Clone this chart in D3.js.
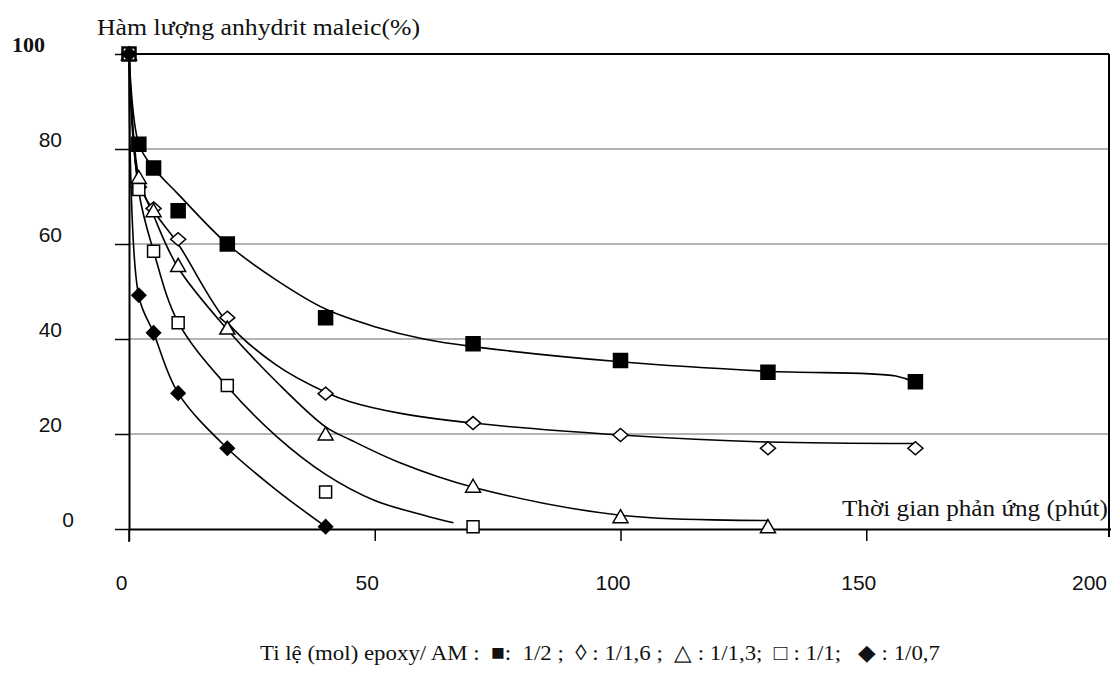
<!DOCTYPE html>
<html>
<head>
<meta charset="utf-8">
<script src="https://cdn.jsdelivr.net/npm/d3@7"></script>
<style>
  body { margin: 0; background: #fff; }
  svg { display: block; }
</style>
</head>
<body>
<div id="chart"></div>
<script>
// Dữ liệu đọc từ đồ thị (điểm đo)
const seriesNames = ["1/2", "1/1,6", "1/1,3", "1/1", "1/0,7"];
const time12 = [0, 2, 5, 10, 20, 40, 70, 100, 130, 160];
const am12 = [100, 81, 76, 67, 60, 44.5, 39, 35.5, 33, 31];
const time116 = [0, 2, 5, 10, 20, 40, 70, 100, 130, 160];
const am116 = [100, 72, 67.5, 61, 44.5, 28.5, 22.3, 19.8, 17, 17];
const time113 = [0, 2, 5, 10, 20, 40, 70, 100, 130];
const am113 = [100, 74, 67, 55.5, 42.3, 20, 9, 2.6, 0.5];
const time11 = [0, 2, 5, 10, 20, 40, 70];
const am11 = [100, 71.5, 58.5, 43.4, 30.2, 7.8, 0.5];
const time107 = [0, 2, 5, 10, 20, 40];
const am107 = [100, 49.2, 41.3, 28.6, 17, 0.5];

// đường xu hướng (đọc từ đồ thị)
const fitT12 = [0, 2, 5, 10, 20, 30, 40, 50, 60, 70, 100, 130, 156, 160];
const fit12 = [100, 81, 76, 70.5, 60, 52.4, 46.3, 42.6, 40, 38.4, 35.2, 33.2, 32.2, 30.8];
const fitT116 = [0, 2, 5, 10, 20, 30, 40, 45, 55, 70, 100, 130, 160];
const fit116 = [100, 73, 67, 60, 43.5, 34.5, 28.8, 26.8, 24.4, 22.3, 19.8, 18.3, 18];
const fitT113 = [0, 2, 5, 10, 20, 30, 40, 45, 55, 70, 100, 130];
const fit113 = [100, 74, 66, 55, 42, 31, 21.5, 18.8, 14, 8.8, 2.9, 1.8];
const fitT11 = [0, 2, 5, 10, 20, 30, 40, 50, 60, 66];
const fit11 = [100, 71, 58.5, 43.5, 30, 19.5, 11.5, 6, 2.9, 1.3];
const fitT107 = [0, 2, 5, 10, 20, 30, 40];
const fit107 = [100, 49, 41.3, 28.6, 17, 8.2, 0.5];

const xTicks = [0, 50, 100, 150, 200];
const yTicks = [0, 20, 40, 60, 80, 100];

const width = 1111, height = 677;
const svg = d3.select("#chart").append("svg")
    .attr("width", width)
    .attr("height", height);

const x = d3.scaleLinear().domain([0, 200]).range([129, 1112]);
const y = d3.scaleLinear().domain([0, 100]).range([529, 54]);

const serif = "'Liberation Serif', 'Times New Roman', serif";
const sans = "'Liberation Sans', Arial, sans-serif";

// lưới ngang
svg.append("g")
    .selectAll("line")
    .data(yTicks.filter(d => d > 0 && d < 100))
    .enter().append("line")
    .attr("x1", x(0)).attr("x2", width - 2)
    .attr("y1", d => y(d)).attr("y2", d => y(d))
    .attr("stroke", "#9a9a9a")
    .attr("stroke-width", 1.6);

// khung: đường 100 và biên phải
svg.append("line")
    .attr("x1", x(0)).attr("x2", width - 2)
    .attr("y1", y(100)).attr("y2", y(100))
    .attr("stroke", "#000").attr("stroke-width", 1.8);
svg.append("line")
    .attr("x1", width - 2).attr("x2", width - 2)
    .attr("y1", y(100)).attr("y2", y(0) + 8)
    .attr("stroke", "#000").attr("stroke-width", 2);

// trục X
const xAxis = svg.append("g")
    .attr("transform", `translate(0,${y(0)})`)
    .call(d3.axisBottom(x).tickValues(xTicks.slice(0, 4)).tickSize(12).tickSizeOuter(0));
xAxis.select(".domain").attr("stroke-width", 2);
xAxis.selectAll(".tick line").attr("stroke-width", 1.5);
xAxis.selectAll(".tick text")
    .attr("font-family", sans).attr("font-size", "21px").attr("fill", "#111")
    .attr("dx", -8).attr("dy", "2.2em");
xAxis.append("text")
    .attr("x", width - 4).attr("y", 15)
    .attr("dy", "2.2em")
    .attr("text-anchor", "end")
    .attr("font-family", sans).attr("font-size", "21px").attr("fill", "#111")
    .text(xTicks[4]);

// trục Y
const yAxis = svg.append("g")
    .attr("transform", `translate(${x(0)},0)`)
    .call(d3.axisLeft(y).tickValues(yTicks).tickSize(14).tickSizeOuter(0));
yAxis.select(".domain").attr("stroke-width", 2);
yAxis.selectAll(".tick line").attr("stroke-width", 1.5);
yAxis.selectAll(".tick text")
    .attr("font-family", sans).attr("font-size", "21px").attr("fill", "#111")
    .attr("x", -67).attr("dy", "-0.1em");
yAxis.selectAll(".tick text").filter(d => d === 0).attr("x", -55);
yAxis.selectAll(".tick text").filter(d => d === 100)
    .attr("x", -84).attr("font-family", serif).attr("font-weight", "bold").attr("font-size", "22px");
yAxis.append("line")
    .attr("x1", 0).attr("x2", 0)
    .attr("y1", y(0)).attr("y2", y(0) + 13)
    .attr("stroke", "#000").attr("stroke-width", 1.5);

// tiêu đề trục
svg.append("text")
    .attr("x", 97).attr("y", 35)
    .attr("font-family", serif).attr("font-size", "24px").attr("fill", "#111")
    .attr("textLength", 323).attr("lengthAdjust", "spacingAndGlyphs")
    .text("Hàm lượng anhydrit maleic(%)");
svg.append("text")
    .attr("x", width - 3).attr("y", 516)
    .attr("text-anchor", "end")
    .attr("font-family", serif).attr("font-size", "24px").attr("fill", "#111")
    .attr("textLength", 266).attr("lengthAdjust", "spacingAndGlyphs")
    .text("Thời gian phản ứng (phút)");

// các dãy
const series = [
    { t: time12, v: am12, ft: fitT12, fv: fit12, marker: "fsquare" },
    { t: time116, v: am116, ft: fitT116, fv: fit116, marker: "odiamond" },
    { t: time113, v: am113, ft: fitT113, fv: fit113, marker: "otriangle" },
    { t: time11, v: am11, ft: fitT11, fv: fit11, marker: "osquare" },
    { t: time107, v: am107, ft: fitT107, fv: fit107, marker: "fdiamond" }
].map((s, i) => ({
    name: seriesNames[i],
    marker: s.marker,
    points: s.t.map((t, j) => ({ t: t, v: s.v[j] })),
    fit: s.ft.map((t, j) => ({ t: t, v: s.fv[j] }))
}));

const line = d3.line()
    .x(d => x(d.t))
    .y(d => y(d.v))
    .curve(d3.curveCatmullRom.alpha(0.5));

svg.append("g")
    .selectAll("path")
    .data(series)
    .enter().append("path")
    .attr("d", d => line(d.fit))
    .attr("fill", "none")
    .attr("stroke", "#000")
    .attr("stroke-width", 1.6);

// ký hiệu
const markerPath = {
    fsquare: "M-7,-7H7V7H-7Z",
    osquare: "M-6,-6H6V6H-6Z",
    odiamond: "M0,-6.5L7.5,0L0,6.5L-7.5,0Z",
    fdiamond: "M0,-7L7,0L0,7L-7,0Z",
    otriangle: "M0,-7L7.5,6L-7.5,6Z"
};
const filled = { fsquare: true, fdiamond: true };

series.forEach(s => {
    svg.append("g")
        .selectAll("path")
        .data(s.points)
        .enter().append("path")
        .attr("transform", d => `translate(${x(d.t)},${y(d.v)})`)
        .attr("d", markerPath[s.marker])
        .attr("fill", filled[s.marker] ? "#000" : "#fff")
        .attr("stroke", "#000")
        .attr("stroke-width", 1.5);
});

// chú thích
svg.append("text")
    .attr("x", 600).attr("y", 660)
    .attr("text-anchor", "middle")
    .attr("font-family", serif).attr("font-size", "22px").attr("fill", "#111")
    .attr("textLength", 680).attr("lengthAdjust", "spacingAndGlyphs")
    .attr("xml:space", "preserve")
    .text("Ti lệ (mol) epoxy/ AM :  \u25A0:  1/2 ;  \u25CA : 1/1,6 ;  \u25B3 : 1/1,3;  \u25A1 : 1/1;   \u25C6 : 1/0,7");
</script>
</body>
</html>
